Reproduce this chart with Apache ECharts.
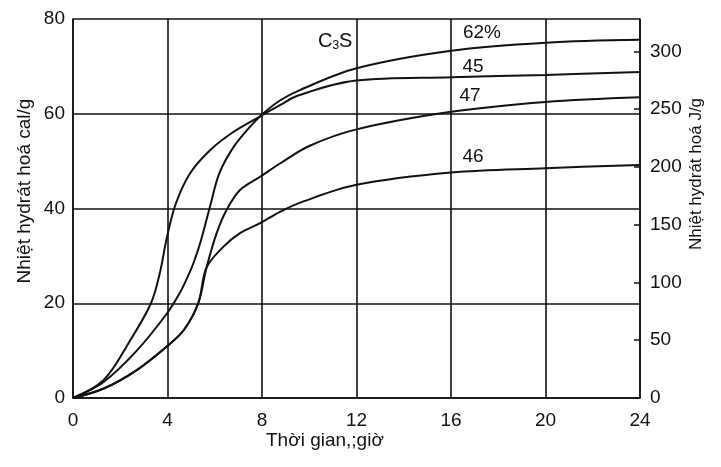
<!DOCTYPE html>
<html>
<head>
<meta charset="utf-8">
<script src="https://cdn.jsdelivr.net/npm/echarts@6/dist/echarts.min.js"></script>
<style>
  html, body { margin: 0; padding: 0; background: #fff; }
  #chart { width: 721px; height: 467px; }
</style>
</head>
<body>
<div id="chart"></div>
<script>
// Heat of hydration of cement vs. time, for four C3S contents
const hours62 = [0, 1.3, 2.7, 4.0, 4.5, 4.8, 5.1, 5.4, 5.8, 6.2, 6.8, 7.5, 8.06, 8.76, 9.6, 12, 16, 20, 24];
const heat62  = [0, 3.4, 10, 18, 22, 25, 28.5, 33, 40.4, 47.5, 53, 57.3, 60.1, 62.8, 65, 69.6, 73.3, 75, 75.6];

const hours45 = [0, 1.3, 2.4, 3.3, 3.68, 3.97, 4.35, 4.95, 5.8, 6.8, 7.9, 8.76, 9.5, 12, 16, 20, 24];
const heat45  = [0, 3.8, 12, 20, 26.5, 33.8, 41, 47.4, 52.3, 56.2, 59.4, 61.8, 63.8, 67, 67.7, 68.2, 68.8];

const hours47 = [0, 1.3, 2.7, 4.0, 4.7, 5.3, 5.65, 6.08, 6.5, 7.07, 7.92, 8.76, 10, 12, 16, 20, 24];
const heat47  = [0, 2, 5.9, 11, 14.4, 20, 27.5, 34.8, 39.7, 43.9, 46.7, 49.5, 53.2, 56.7, 60.4, 62.5, 63.5];

const hours46 = [0, 1.3, 2.7, 4.0, 4.7, 5.3, 5.65, 6.36, 7.07, 7.92, 8.76, 9.7, 12, 16, 20, 24];
const heat46  = [0, 2, 5.9, 11, 14.4, 20, 27.5, 31.9, 34.8, 36.9, 39.3, 41.4, 45, 47.6, 48.5, 49.2];

const hourTicks = [0, 4, 8, 12, 16, 20, 24];
const calTicks = [0, 20, 40, 60, 80];
const jouleTicks = [0, 50, 100, 150, 200, 250, 300];
const calToJoule = 4.1;

const curveLabels = ['62%', '45', '47', '46'];

const pairs = (xs, ys) => xs.map((x, i) => [x, ys[i]]);

const FONT = '"Liberation Sans", Arial, sans-serif';
const INK = '#111';

const chart = echarts.init(document.getElementById('chart'), null, { renderer: 'canvas' });

function curve(name, xs, ys) {
  return {
    name: name,
    type: 'line',
    data: pairs(xs, ys),
    smooth: 0.35,
    showSymbol: false,
    silent: true,
    lineStyle: { color: INK, width: 2 },
    z: 5
  };
}

chart.setOption({
  animation: false,
  backgroundColor: '#fff',
  grid: { left: 73, right: 81, top: 19, bottom: 69 },
  xAxis: {
    type: 'value',
    min: hourTicks[0],
    max: hourTicks[hourTicks.length - 1],
    interval: hourTicks[1] - hourTicks[0],
    axisLine: { show: true, lineStyle: { color: INK, width: 1.5 } },
    axisTick: { show: false },
    axisLabel: { color: INK, fontFamily: FONT, fontSize: 19, margin: 13 },
    splitLine: { show: true, lineStyle: { color: INK, width: 1.6 } }
  },
  yAxis: [
    {
      type: 'value',
      position: 'left',
      min: calTicks[0],
      max: calTicks[calTicks.length - 1],
      interval: calTicks[1] - calTicks[0],
      axisLine: { show: true, lineStyle: { color: INK, width: 1.5 } },
      axisTick: { show: false },
      axisLabel: { color: INK, fontFamily: FONT, fontSize: 19, margin: 8 },
      splitLine: { show: true, lineStyle: { color: INK, width: 1.5 } }
    },
    {
      type: 'value',
      position: 'right',
      min: jouleTicks[0],
      max: calTicks[calTicks.length - 1] * calToJoule,
      interval: jouleTicks[1] - jouleTicks[0],
      axisLine: { show: true, lineStyle: { color: INK, width: 1.5 } },
      axisTick: { show: true, inside: true, length: 6, lineStyle: { color: INK, width: 1.5 } },
      axisLabel: {
        color: INK, fontFamily: FONT, fontSize: 19, margin: 10,
        showMaxLabel: false,
        formatter: v => (jouleTicks.indexOf(v) >= 0 ? String(v) : '')
      },
      splitLine: { show: false }
    }
  ],
  series: [
    curve(curveLabels[0], hours62, heat62),
    curve(curveLabels[1], hours45, heat45),
    curve(curveLabels[2], hours47, heat47),
    curve(curveLabels[3], hours46, heat46)
  ],
  graphic: [
    {
      type: 'text', left: 266, top: 431,
      style: { text: 'Thời gian,;giờ', font: '19px ' + FONT, fill: INK }
    },
    {
      type: 'text', x: 25, y: 191, rotation: Math.PI / 2,
      style: { text: 'Nhiệt hydrát hoá cal/g', font: '19px ' + FONT, fill: INK, align: 'center', verticalAlign: 'middle' }
    },
    {
      type: 'text', x: 696, y: 174, rotation: Math.PI / 2,
      style: { text: 'Nhiệt hydrát hoá J/g', font: '17px ' + FONT, fill: INK, align: 'center', verticalAlign: 'middle' }
    },
    {
      type: 'text', x: 318, y: 41,
      style: {
        text: '{a|C}{s|3}{a|S}',
        fill: INK, verticalAlign: 'middle',
        rich: {
          a: { fontFamily: FONT, fontSize: 20, fill: INK },
          s: { fontFamily: FONT, fontSize: 12, fill: INK, padding: [10, 0, 0, 0] }
        }
      }
    },
    { type: 'text', x: 482, y: 33, style: { text: curveLabels[0], font: '19px ' + FONT, fill: INK, align: 'center', verticalAlign: 'middle' } },
    { type: 'text', x: 473, y: 67, style: { text: curveLabels[1], font: '19px ' + FONT, fill: INK, align: 'center', verticalAlign: 'middle' } },
    { type: 'text', x: 470, y: 96, style: { text: curveLabels[2], font: '19px ' + FONT, fill: INK, align: 'center', verticalAlign: 'middle' } },
    { type: 'text', x: 473, y: 157, style: { text: curveLabels[3], font: '19px ' + FONT, fill: INK, align: 'center', verticalAlign: 'middle' } }
  ]
});
</script>
</body>
</html>
